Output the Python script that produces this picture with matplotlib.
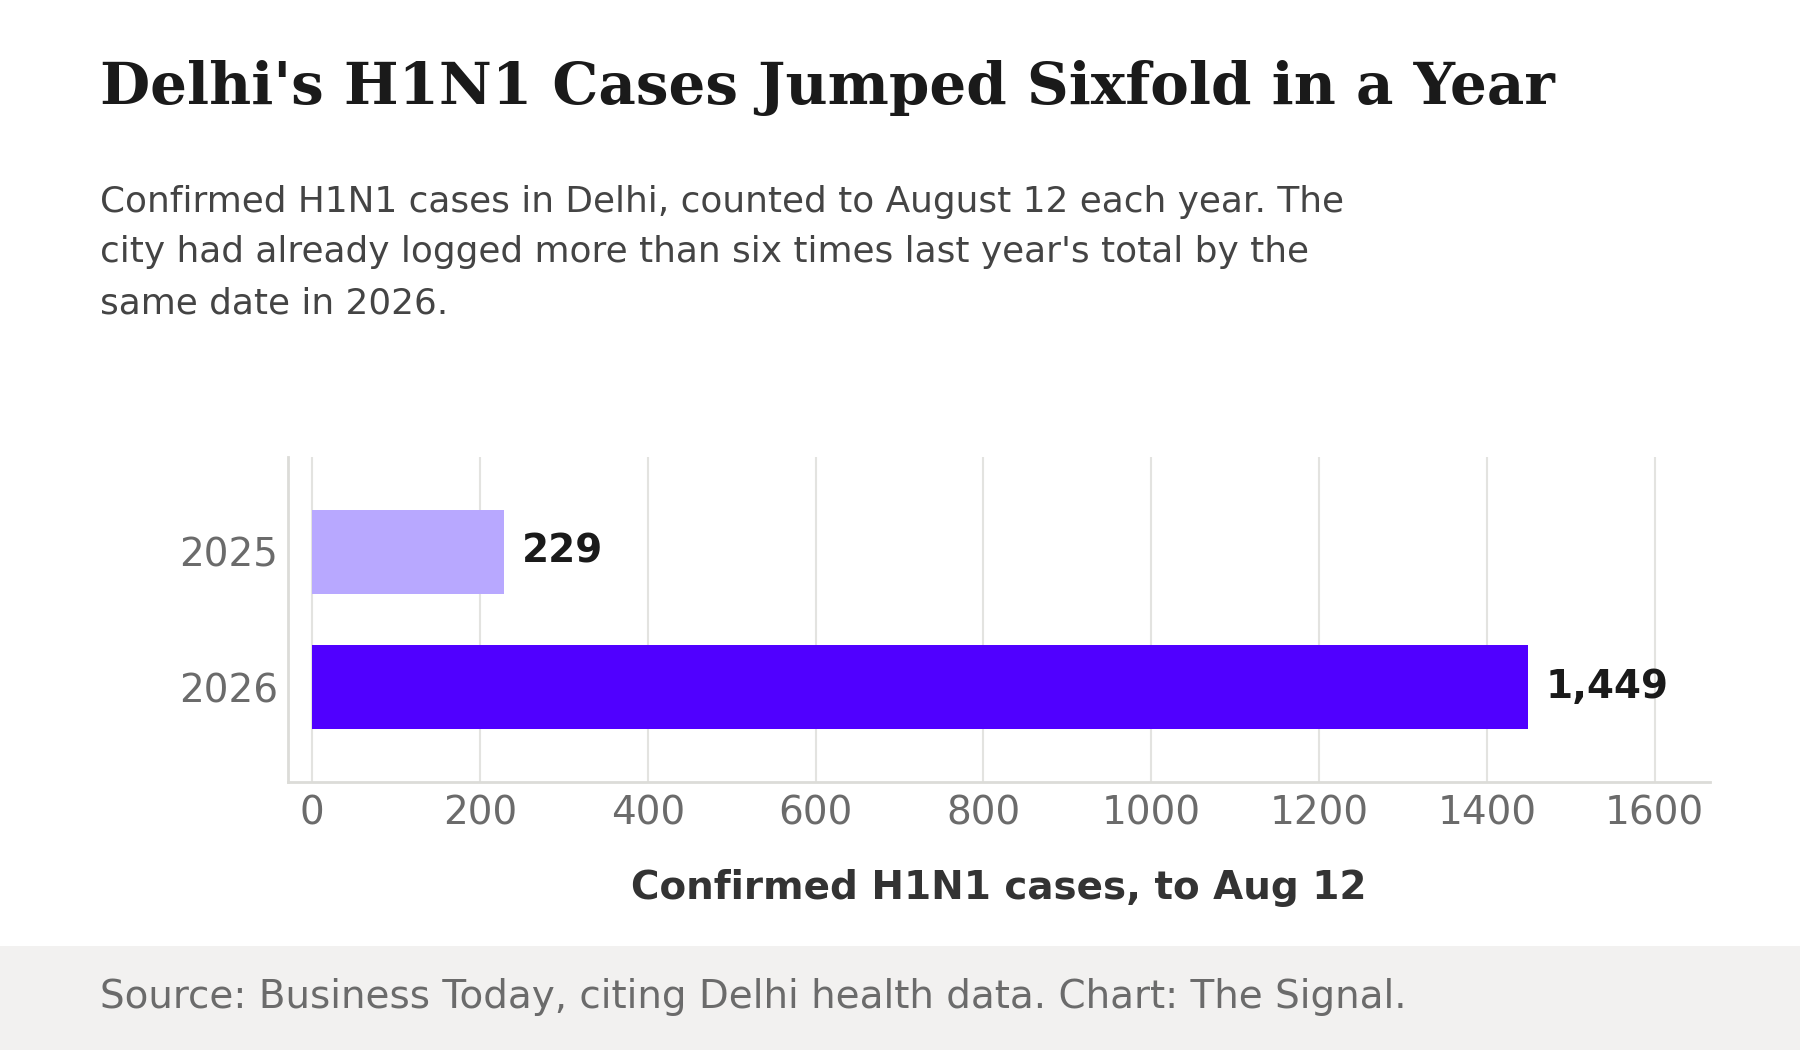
import matplotlib
matplotlib.use("Agg")
import matplotlib.pyplot as plt
from matplotlib.patches import Rectangle

years = ["2025", "2026"]
cases = [229, 1449]
bar_colors = ["#b8a8ff", "#5000ff"]
xticks = [0, 200, 400, 600, 800, 1000, 1200, 1400, 1600]

title = "Delhi's H1N1 Cases Jumped Sixfold in a Year"
subtitle = ("Confirmed H1N1 cases in Delhi, counted to August 12 each year. The\n"
            "city had already logged more than six times last year's total by the\n"
            "same date in 2026.")
xlabel = "Confirmed H1N1 cases, to Aug 12"
source = "Source: Business Today, citing Delhi health data. Chart: The Signal."

W, H = 1800, 1050
fig = plt.figure(figsize=(18, 10.5), dpi=100)
fig.patch.set_facecolor("white")

def fx(px):
    return px / W

def fy(py):
    return 1 - py / H

# footer band
fig.patches.append(Rectangle((0, 0), 1, fy(946), transform=fig.transFigure,
                             facecolor="#f2f1f0", edgecolor="none", zorder=0))

fig.text(fx(100), fy(104), title, family="DejaVu Serif", weight="bold",
         fontsize=41.7, color="#1a1a1a", va="baseline", ha="left")
# multi-line text: baseline alignment refers to the last line
fig.text(fx(100), fy(313), subtitle, family="DejaVu Sans", fontsize=25.8,
         color="#444444", va="baseline", ha="left", linespacing=1.62)
fig.text(fx(100), fy(1008), source, family="DejaVu Sans", fontsize=28,
         color="#6b6b6b", va="baseline", ha="left")

ax = fig.add_axes([fx(288), fy(782), fx(1710 - 288), (782 - 457) / H])
ypos = list(range(len(years)))
ax.barh(ypos, cases, height=0.62, color=bar_colors, zorder=3)
ax.set_yticks(ypos)
ax.set_yticklabels(years)
ax.set_ylim(1.7, -0.7)
ax.set_xlim(-29, 1666)
ax.set_xticks(xticks)
ax.set_xticklabels([str(t) for t in xticks])
ax.tick_params(axis="both", length=0, labelsize=28, labelcolor="#6b6b6b")
ax.tick_params(axis="x", pad=9)
ax.tick_params(axis="y", pad=7)
ax.grid(axis="x", color="#e3e3e0", linewidth=1.5, zorder=0)
ax.grid(axis="y", visible=False)
for s in ["top", "right"]:
    ax.spines[s].set_visible(False)
for s in ["left", "bottom"]:
    ax.spines[s].set_color("#dcdcd8")
    ax.spines[s].set_linewidth(2)

for y, v in zip(ypos, cases):
    ax.annotate(f"{v:,}", xy=(v, y), xytext=(12.5, 0), textcoords="offset points",
                va="center", ha="left", fontsize=28, weight="bold", color="#1a1a1a")

ax.set_xlabel(xlabel, fontsize=28, weight="bold", color="#333333", labelpad=26)

fig.savefig("out.png", dpi=100, facecolor="white")
